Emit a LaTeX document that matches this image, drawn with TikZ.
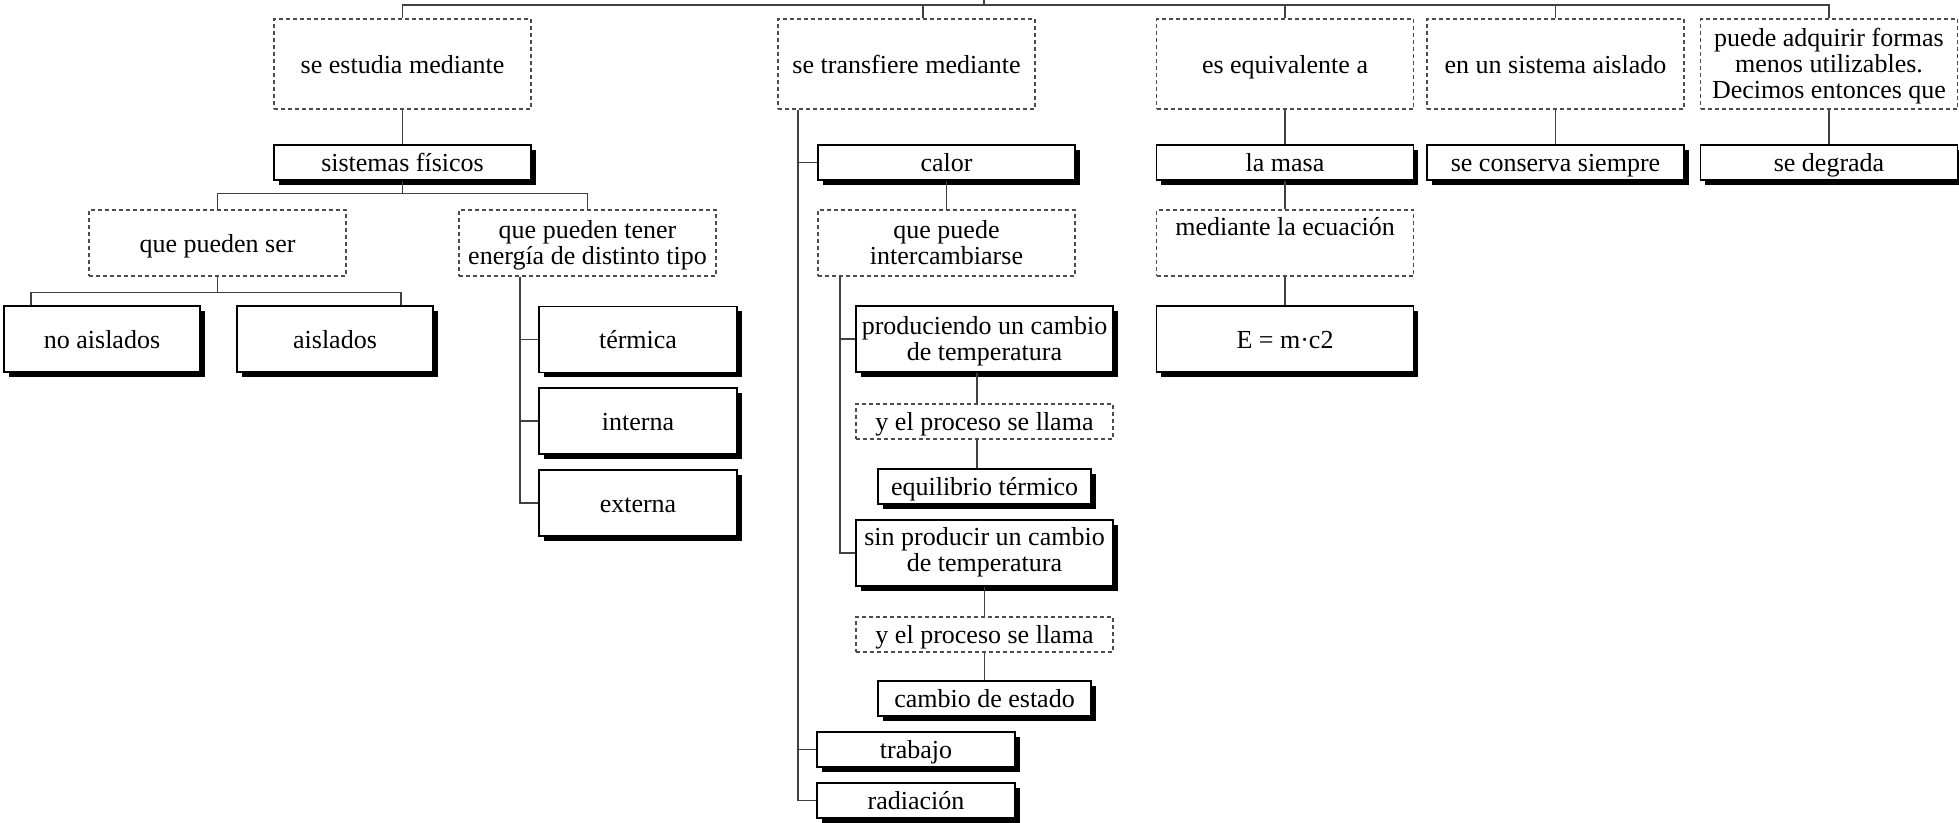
\documentclass[tikz,border=0pt]{standalone}
\usepackage{fontspec}
\setmainfont{Liberation Serif}
\usetikzlibrary{shadows}
\newcommand\topstrut{\rule[-7.8pt]{0pt}{34pt}}
\newcommand\mlstrut{\rule{0pt}{24.5pt}}
\tikzset{
  base/.style={font=\fontsize{26}{26}\selectfont, align=center, inner sep=0pt, text=black,
    execute at begin node=\topstrut, execute at end node=\strut},
  dbox/.style={base, draw=black!70, dash pattern=on 4pt off 3pt, line width=1.2pt, minimum width=257pt},
  sbox/.style={base, draw=black, fill=white, line width=1.5pt, minimum width=257pt,
    drop shadow={shadow xshift=4.5pt, shadow yshift=-4.5pt, opacity=1, fill=black}},
  link/.style={draw=black!75, line width=1.3pt},
}
\begin{document}
\begin{tikzpicture}[x=1pt,y=-1pt]
\useasboundingbox (0,0) rectangle (1959,822);
% row 1
\node[dbox, minimum height=90pt] (est) at (402.5,64) {se estudia mediante};
\node[dbox, minimum height=90pt] (trans) at (906.5,64) {se transfiere mediante};
\node[dbox, minimum height=90pt] (equiv) at (1285,64) {es equivalente a};
\node[dbox, minimum height=90pt] (sist) at (1555.5,64) {en un sistema aislado};
\node[dbox, minimum height=90pt] (adq) at (1829,64) {\mlstrut puede adquirir formas\\menos utilizables.\\Decimos entonces que};
% row 2
\node[sbox, minimum height=35pt] (fis) at (402.5,162.5) {sistemas físicos};
\node[sbox, minimum height=35pt] (calor) at (946.5,162.5) {calor};
\node[sbox, minimum height=35pt] (masa) at (1285,162.5) {la masa};
\node[sbox, minimum height=35pt] (cons) at (1555.5,162.5) {se conserva siempre};
\node[sbox, minimum height=35pt] (degr) at (1829,162.5) {se degrada};
% row 3
\node[dbox, minimum height=66pt] (qser) at (217.5,243) {que pueden ser};
\node[dbox, minimum height=66pt] (qtener) at (587.5,243) {\mlstrut que pueden tener\\energía de distinto tipo};
\node[dbox, minimum height=66pt] (qinter) at (946.5,243) {\mlstrut que puede\\intercambiarse};
\node[dbox, minimum height=66pt] (ecua) at (1285,243) {mediante la ecuación\\};
% row 4 and below
\node[sbox, minimum height=66pt, minimum width=196pt] (noais) at (102,339) {no aislados};
\node[sbox, minimum height=66pt, minimum width=196pt] (ais) at (335,339) {aislados};
\node[sbox, minimum height=66pt, minimum width=198pt] (term) at (638,339.5) {térmica};
\node[sbox, minimum height=66pt, minimum width=198pt] (int) at (638,421) {interna};
\node[sbox, minimum height=66pt, minimum width=198pt] (ext) at (638,503) {externa};
\node[sbox, minimum height=66pt] (prod) at (984.5,339) {\mlstrut produciendo un cambio\\de temperatura};
\node[sbox, minimum height=66pt] (emc) at (1285,339) {E = m·c2};
\node[dbox, minimum height=35pt] (proc1) at (984.5,421.5) {y el proceso se llama};
\node[sbox, minimum height=35pt, minimum width=213pt] (equil) at (984.5,486.5) {equilibrio térmico};
\node[sbox, minimum height=66pt] (sinp) at (984.5,553) {sin producir un cambio\\de temperatura};
\node[dbox, minimum height=35pt] (proc2) at (984.5,634.5) {y el proceso se llama};
\node[sbox, minimum height=35pt, minimum width=213pt] (cest) at (984.5,698.5) {cambio de estado};
\node[sbox, minimum height=35pt, minimum width=198pt] (trab) at (916,749.5) {trabajo};
\node[sbox, minimum height=35pt, minimum width=198pt] (rad) at (916,800.5) {radiación};
% top bus
\coordinate (root) at (984,0);
\coordinate (bus) at (984,5);
\draw[link] (root) -- (bus);
\draw[link] (est.north) |- (bus -| adq.north) -- (adq.north);
\draw[link] ([xshift=16.5pt]trans.north) -- ([xshift=16.5pt]trans.north |- bus);
\draw[link] (equiv.north) -- (equiv.north |- bus);
\draw[link] (sist.north) -- (sist.north |- bus);
% column 1
\draw[link] (est.south) -- (fis.north);
\draw[link] (fis.south) -- ++(0,13) -| (qser.north);
\draw[link] (fis.south) ++(0,13) -| (qtener.north);
\draw[link] (qser.south) -- ++(0,16) -| ([xshift=-71pt]noais.north);
\draw[link] (qser.south) ++(0,16) -| ([xshift=66pt]ais.north);
\draw[link] ([xshift=-67.5pt]qtener.south) |- (term.west);
\draw[link] ([xshift=-67.5pt]qtener.south) |- (int.west);
\draw[link] ([xshift=-67.5pt]qtener.south) |- (ext.west);
% column 2
\draw[link] ([xshift=-108.5pt]trans.south) |- (calor.west);
\draw[link] ([xshift=-108.5pt]trans.south) |- (trab.west);
\draw[link] ([xshift=-108.5pt]trans.south) |- (rad.west);
\draw[link] (calor.south) -- (qinter.north);
\draw[link] ([xshift=-106.5pt]qinter.south) |- (prod.west);
\draw[link] ([xshift=-106.5pt]qinter.south) |- (sinp.west);
\draw[link] ([xshift=-7.5pt]prod.south) -- ([xshift=-7.5pt]proc1.north);
\draw[link] ([xshift=-7.5pt]proc1.south) -- ([xshift=-7.5pt]equil.north);
\draw[link] (sinp.south) -- (proc2.north);
\draw[link] (proc2.south) -- (cest.north);
% column 3-5
\draw[link] (equiv.south) -- (masa.north);
\draw[link] (masa.south) -- (ecua.north);
\draw[link] (ecua.south) -- (emc.north);
\draw[link] (sist.south) -- (cons.north);
\draw[link] (adq.south) -- (degr.north);
\end{tikzpicture}
\end{document}
